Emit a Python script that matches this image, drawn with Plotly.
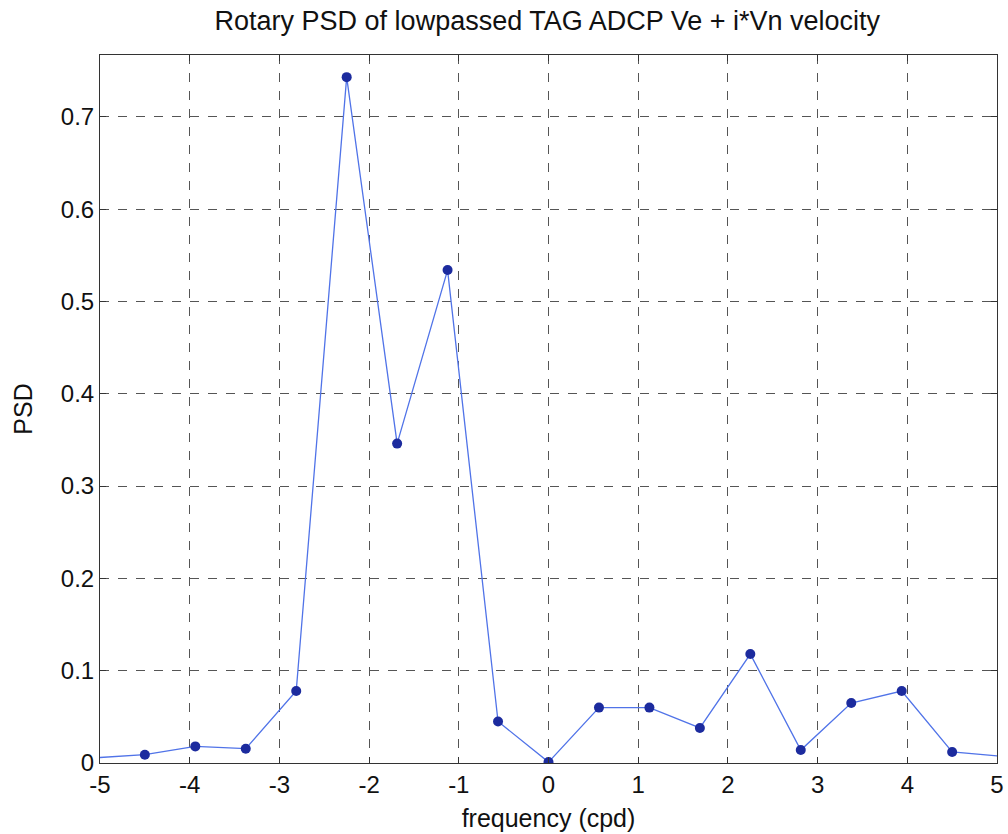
import plotly.graph_objects as go

# Data
freq_cpd = [-5.0625, -4.5, -3.9375, -3.375, -2.8125, -2.25, -1.6875, -1.125, -0.5625,
            0.0, 0.5625, 1.125, 1.6875, 2.25, 2.8125, 3.375, 3.9375, 4.5, 5.0625]
psd = [0.0056, 0.009, 0.018, 0.0155, 0.078, 0.743, 0.346, 0.534, 0.045,
       0.001, 0.060, 0.060, 0.038, 0.118, 0.014, 0.065, 0.078, 0.012, 0.0073]

x_ticks = [-5, -4, -3, -2, -1, 0, 1, 2, 3, 4, 5]
x_tick_labels = ["-5", "-4", "-3", "-2", "-1", "0", "1", "2", "3", "4", "5"]
y_ticks = [0, 0.1, 0.2, 0.3, 0.4, 0.5, 0.6, 0.7]
y_tick_labels = ["0", "0.1", "0.2", "0.3", "0.4", "0.5", "0.6", "0.7"]

FONT = "Liberation Sans, Arial, Helvetica, sans-serif"

fig = go.Figure()
fig.add_trace(go.Scatter(
    x=freq_cpd, y=psd, mode="lines+markers",
    line=dict(color="#5073e8", width=1.3),
    marker=dict(color="#1c2b9e", size=10, line=dict(width=0)),
    cliponaxis=True, showlegend=False,
))

axis_common = dict(
    showline=True, linecolor="#333333", linewidth=1, mirror="ticks",
    ticks="inside", ticklen=6, tickcolor="#333333",
    showgrid=True, gridcolor="#555555", griddash="dash", gridwidth=1,
    zeroline=False, automargin=False,
    tickfont=dict(family=FONT, size=24, color="#111111"),
)

fig.update_xaxes(
    range=[-5, 5], tickvals=x_ticks, ticktext=x_tick_labels,
    title=dict(text="frequency (cpd)", font=dict(family=FONT, size=25, color="#111111"), standoff=12),
    **axis_common,
)
fig.update_yaxes(
    range=[0, 0.767], tickvals=y_ticks, ticktext=y_tick_labels,
    title=dict(text="PSD", font=dict(family=FONT, size=25, color="#111111"), standoff=21),
    **axis_common,
)

fig.update_layout(
    width=1008, height=834,
    margin=dict(l=100, r=11, t=55, b=71),
    paper_bgcolor="white", plot_bgcolor="white",
    title=dict(text="Rotary PSD of lowpassed TAG ADCP Ve + i*Vn velocity",
               font=dict(family=FONT, size=27, color="#111111"),
               x=0.543, xanchor="center", y=0.975, yanchor="middle", yref="container"),
)

fig.write_html("out.html")
